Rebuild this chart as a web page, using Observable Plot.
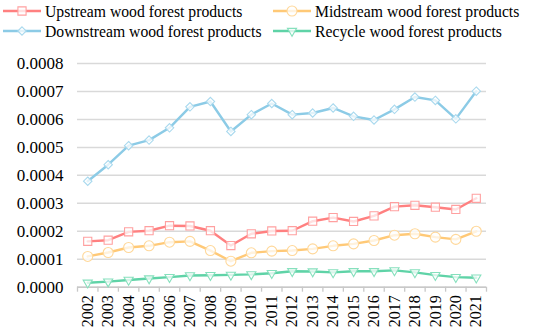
<!DOCTYPE html>
<html>
<head>
<meta charset="utf-8">
<script src="https://cdn.jsdelivr.net/npm/d3@7"></script>
<script src="https://cdn.jsdelivr.net/npm/@observablehq/plot@0.6"></script>
<style>
  html, body { margin: 0; padding: 0; background: #fff; }
  #legend { width: 550px; height: 44px; position: relative; }
  #legend svg { display: block; }
  svg, svg text { font-family: 'Liberation Serif', 'Times New Roman', serif !important; }
</style>
</head>
<body>
<div id="legend"></div>
<div id="chart"></div>
<script>
const years = [2002, 2003, 2004, 2005, 2006, 2007, 2008, 2009, 2010, 2011, 2012, 2013, 2014, 2015, 2016, 2017, 2018, 2019, 2020, 2021];
const upstream   = [0.000164, 0.000168, 0.000198, 0.000202, 0.000220, 0.000219, 0.000202, 0.000149, 0.000191, 0.000201, 0.000202, 0.000236, 0.000249, 0.000235, 0.000255, 0.000288, 0.000293, 0.000286, 0.000278, 0.000318];
const midstream  = [0.000110, 0.000124, 0.000142, 0.000148, 0.000161, 0.000164, 0.000131, 0.000093, 0.000123, 0.000129, 0.000131, 0.000137, 0.000148, 0.000155, 0.000167, 0.000186, 0.000191, 0.000179, 0.000171, 0.000200];
const downstream = [0.000379, 0.000438, 0.000506, 0.000526, 0.000570, 0.000645, 0.000664, 0.000557, 0.000617, 0.000657, 0.000617, 0.000623, 0.000641, 0.000611, 0.000598, 0.000636, 0.000680, 0.000668, 0.000602, 0.000701];
const recycle    = [0.000016, 0.000020, 0.000026, 0.000031, 0.000036, 0.000042, 0.000043, 0.000044, 0.000046, 0.000050, 0.000057, 0.000056, 0.000053, 0.000057, 0.000057, 0.000060, 0.000053, 0.000043, 0.000036, 0.000034];
const seriesNames = ["Upstream wood forest products", "Midstream wood forest products", "Downstream wood forest products", "Recycle wood forest products"];
const yTicks = [0, 0.0001, 0.0002, 0.0003, 0.0004, 0.0005, 0.0006, 0.0007, 0.0008];

const seriesValues = [upstream, midstream, downstream, recycle];
const lineColors = ["#ff8080", "#ffc977", "#8ccbe6", "#5fd3a7"];
const markColors = ["#ffa0a0", "#ffd89a", "#a9d9ee", "#86e0bd"];
const symbols = ["square", "circle", "diamond2", "triangle"];
const sizes = [4.6, 5, 3.8, 3.4];
const rotates = [0, 0, 0, 180];

const data = [];
seriesNames.forEach((s, i) => years.forEach((yr, j) => data.push({series: s, idx: i, year: yr, value: seriesValues[i][j]})));
const boundaries = years.map(y => y - 0.5).concat([years[years.length - 1] + 0.5]);

const font = "'Liberation Serif', 'Times New Roman', serif";

const marks = [
  Plot.gridY({ticks: yTicks, stroke: "#d9d9d9", strokeOpacity: 1, strokeWidth: 1.5}),
  Plot.axisY({ticks: yTicks, tickSize: 0, tickPadding: 14, tickFormat: d3.format(".4f"), fontSize: 17, fill: "#000", label: null, fontFamily: font}),
  Plot.ruleY([0], {stroke: "#c8c8c8", strokeWidth: 1.5}),
  Plot.axisX({ticks: boundaries, tickSize: 5, tickFormat: () => "", stroke: "#c8c8c8", strokeWidth: 1.3, label: null}),
  Plot.axisX({ticks: years, tickSize: 0, tickPadding: 8, tickRotate: -90, tickFormat: d => String(d), fontSize: 16, fill: "#000", label: null, fontFamily: font})
];
seriesNames.forEach((s, i) => {
  const d = data.filter(r => r.idx === i);
  marks.push(Plot.line(d, {x: "year", y: "value", stroke: lineColors[i], strokeWidth: 2.4}));
});
seriesNames.forEach((s, i) => {
  const d = data.filter(r => r.idx === i);
  marks.push(Plot.dot(d, {x: "year", y: "value", symbol: () => symbols[i], r: sizes[i], rotate: rotates[i], stroke: markColors[i], strokeWidth: 1.1, fill: "white", fillOpacity: 0.75}));
});

const chart = Plot.plot({
  width: 550,
  height: 284,
  marginLeft: 77,
  marginRight: 64,
  marginTop: 19,
  marginBottom: 41.3,
  style: {fontFamily: font, background: "white", overflow: "visible"},
  x: {domain: [2001.5, 2021.5], axis: null},
  y: {domain: [0, 0.0008], axis: null},
  symbol: {type: "identity"},
  marks
});
document.getElementById("chart").appendChild(chart);

// Legend
const lg = d3.select("#legend").append("svg").attr("width", 550).attr("height", 44);
const pos = [[3, 11], [273, 11], [3, 31], [273, 31]];
const symGen = {square: d3.symbolSquare, circle: d3.symbolCircle, diamond2: d3.symbolDiamond2, triangle: d3.symbolTriangle};
seriesNames.forEach((s, i) => {
  const [x, y] = pos[i];
  const g = lg.append("g");
  g.append("line").attr("x1", x).attr("x2", x + 38).attr("y1", y).attr("y2", y).attr("stroke", lineColors[i]).attr("stroke-width", 2.4);
  g.append("path").attr("d", d3.symbol(symGen[symbols[i]], Math.PI * sizes[i] * sizes[i])())
    .attr("transform", `translate(${x + 19},${y}) rotate(${rotates[i]})`)
    .attr("fill", "white").attr("fill-opacity", 0.75).attr("stroke", markColors[i]).attr("stroke-width", 1.1);
  g.append("text").attr("x", x + 42).attr("y", y).attr("dy", "0.36em")
    .attr("font-family", font).attr("font-size", 15.7).attr("fill", "#000").text(s);
});
</script>
</body>
</html>
